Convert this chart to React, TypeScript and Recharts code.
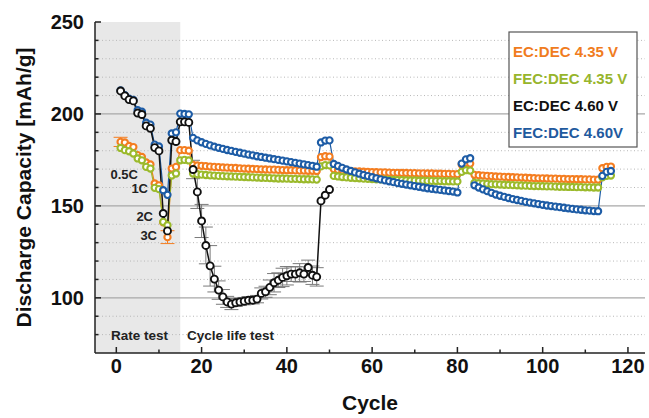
import { ComposedChart, Line, XAxis, YAxis, ReferenceArea, ReferenceLine, ErrorBar } from "recharts";

// discharge capacity per cycle [mAh/g], cycle = index + 1
const EC_435 = [
    184.8, 184.5, 182.6, 182.0, 177.6, 176.6, 173.6, 172.5, 162.2, 161.2, 141.0, 133.0, 170.3, 171.2, 180.3, 180.3, 180.0,
    172.3, 172.0, 171.8, 171.6, 171.4, 171.2, 171.1, 170.9, 170.8, 170.7, 170.6, 170.4, 170.3, 170.2, 170.1,
    170.0, 169.9, 169.8, 169.7, 169.7, 169.6, 169.5, 169.4, 169.4, 169.3, 169.2, 169.2, 169.1, 169.1, 169.0,
    176.5, 177.0, 176.8,
    170.0, 169.6, 169.3, 169.1, 168.9, 168.8, 168.7, 168.6, 168.5, 168.4, 168.3, 168.2, 168.2, 168.1, 168.0,
    168.0, 167.9, 167.9, 167.8, 167.8, 167.7, 167.7, 167.6, 167.6, 167.5, 167.5, 167.4, 167.4, 167.3, 167.3,
    172.5, 173.2, 173.0,
    166.9, 166.7, 166.5, 166.3, 166.2, 166.0, 165.9, 165.8, 165.7, 165.6, 165.5, 165.4, 165.3, 165.2, 165.1,
    165.0, 165.0, 164.9, 164.8, 164.8, 164.7, 164.7, 164.6, 164.6, 164.5, 164.5, 164.4, 164.4, 164.3, 164.3,
    170.5, 171.2, 171.4,
];

const FEC_435 = [
    181.5, 180.3, 179.7, 178.5, 175.8, 174.8, 171.2, 170.3, 159.8, 159.1, 141.3, 139.5, 166.5, 167.6, 174.8, 175.0, 174.7,
    167.6, 167.2, 167.0, 166.8, 166.6, 166.5, 166.3, 166.2, 166.1, 166.0, 165.9, 165.8, 165.7, 165.6, 165.5,
    165.4, 165.3, 165.2, 165.1, 165.0, 164.9, 164.9, 164.8, 164.7, 164.7, 164.6, 164.5, 164.5, 164.4, 164.3,
    171.5, 172.2, 172.0,
    166.3, 166.0, 165.7, 165.5, 165.3, 165.1, 165.0, 164.8, 164.7, 164.6, 164.5, 164.4, 164.3, 164.2, 164.1,
    164.0, 164.0, 163.9, 163.8, 163.8, 163.7, 163.7, 163.6, 163.6, 163.5, 163.5, 163.4, 163.4, 163.3, 163.3,
    168.5, 169.4, 169.2,
    162.5, 162.3, 162.1, 162.0, 161.8, 161.7, 161.6, 161.5, 161.4, 161.3, 161.2, 161.1, 161.0, 160.9, 160.8,
    160.8, 160.7, 160.6, 160.6, 160.5, 160.4, 160.4, 160.3, 160.3, 160.2, 160.2, 160.1, 160.1, 160.0, 160.0,
    165.5, 166.3, 166.5,
];

const EC_460 = [
    212.5, 209.8, 207.8, 207.1, 200.5, 199.7, 193.5, 192.2, 181.7, 179.9, 145.9, 136.4, 185.7, 185.0, 195.7, 195.7, 195.4,
    169.8, 157.6, 141.8, 128.5, 117.4, 110.2, 104.2, 100.5, 97.8, 96.6, 97.3, 97.8, 98.2, 98.7, 98.7,
    99.3, 102.4, 103.3, 105.7, 108.2, 109.6, 111.1, 112.0, 112.9, 112.9, 113.6, 112.9, 116.5, 112.3, 111.4,
    152.7, 155.8, 158.9,
];

const EC_460_ERR = [
    0, 0, 0, 0, 0, 0, 0, 0, 0, 0, 0, 0, 0, 0, 0, 0, 0,
    5, 9, 9, 10, 11, 7, 5, 4, 3, 3, 2, 2, 2, 2, 2,
    2, 3, 3, 4, 5, 4, 5, 5, 4, 4, 5, 4, 4, 5, 5,
    0, 0, 0,
];

const FEC_460 = [
    212.8, 210.2, 208.3, 207.6, 202.0, 201.2, 195.2, 194.2, 183.3, 182.3, 158.5, 156.0, 189.4, 190.0, 200.2, 200.0, 199.8,
    187.0, 185.6, 184.6, 183.7, 182.9, 182.2, 181.6, 181.0, 180.4, 179.9, 179.4, 178.9, 178.4, 177.9, 177.5,
    177.0, 176.6, 176.2, 175.8, 175.4, 175.0, 174.6, 174.2, 173.8, 173.4, 173.0, 172.6, 172.2, 171.8, 171.3,
    184.5, 185.5, 185.6,
    172.8, 171.7, 170.7, 169.8, 169.0, 168.2, 167.5, 166.8, 166.2, 165.6, 165.0, 164.4, 163.9, 163.4, 162.9,
    162.4, 162.0, 161.6, 161.2, 160.8, 160.4, 160.0, 159.6, 159.3, 159.0, 158.7, 158.4, 158.1, 157.8, 157.3,
    173.0, 175.3, 175.9,
    161.2, 160.0, 159.0, 158.0, 157.1, 156.2, 155.5, 154.9, 154.3, 153.7, 153.2, 152.7, 152.2, 151.8, 151.4,
    151.0, 150.6, 150.2, 149.9, 149.6, 149.3, 149.0, 148.7, 148.4, 148.1, 147.9, 147.6, 147.4, 147.2, 147.1,
    166.3, 168.5, 169.0,
];

const EC_435_ERR_CYCLES = [1, 12];
const EC_435_ERR_VALUES = [2.5, 3.5];

const X_TICKS = [0, 10, 20, 30, 40, 50, 60, 70, 80, 90, 100, 110, 120];
const X_TOP_TICKS = [0, 20, 40, 60, 80, 100, 120];
const Y_TICKS = [80, 90, 100, 110, 120, 130, 140, 150, 160, 170, 180, 190, 200, 210, 220, 230, 240, 250];
const GRID_MAJOR = [100, 150, 200];
const GRID_MINOR = [80, 90, 110, 120, 130, 140, 160, 170, 180, 190, 210, 220, 230, 240];
const RATE_LABELS = ["0.5C", "1C", "2C", "3C"];

const SERIES = [
    { key: "ec435", name: "EC:DEC 4.35 V", color: "#f47d20", text: "#f07c1e" },
    { key: "fec435", name: "FEC:DEC 4.35 V", color: "#9bba2c", text: "#97b52c" },
    { key: "fec460", name: "FEC:DEC 4.60V", color: "#1d5ca6", text: "#1f5a9e" },
    { key: "ec460", name: "EC:DEC 4.60 V", color: "#111111", text: "#111111" },
];
const LEGEND_ORDER = ["ec435", "fec435", "ec460", "fec460"];

const FONT = "Arial, 'Liberation Sans', Helvetica, sans-serif";
const AXIS = "#222";

const data = FEC_435.map((_, i) => {
    const cycle = i + 1;
    const errIdx = EC_435_ERR_CYCLES.indexOf(cycle);
    return {
        cycle,
        ec435: EC_435[i],
        fec435: FEC_435[i],
        fec460: FEC_460[i],
        ec460: i < EC_460.length ? EC_460[i] : null,
        ec460Err: i < EC_460_ERR.length ? EC_460_ERR[i] : 0,
        ec435Err: errIdx >= 0 ? EC_435_ERR_VALUES[errIdx] : 0,
    };
});

function LeftTick({ x, y, payload }: any) {
    const major = payload.value % 50 === 0;
    return (
        <g>
            <line x1={x} y1={y} x2={x + (major ? 6 : 3.5)} y2={y} stroke={AXIS} strokeWidth={1.5} />
            {major && (
                <text x={x - 11} y={y} dy="0.36em" textAnchor="end" fontFamily={FONT} fontWeight="bold" fontSize={20} fill="#111">
                    {payload.value}
                </text>
            )}
        </g>
    );
}

function RightTick({ x, y, payload }: any) {
    const major = payload.value % 50 === 0;
    return <line x1={x} y1={y} x2={x - (major ? 6 : 3.5)} y2={y} stroke={AXIS} strokeWidth={1.5} />;
}

function BottomTick({ x, y, payload }: any) {
    const major = payload.value % 20 === 0;
    return (
        <g>
            <line x1={x} y1={y} x2={x} y2={y - (major ? 6 : 3.5)} stroke={AXIS} strokeWidth={1.5} />
            {major && (
                <text x={x} y={y + 20} textAnchor="middle" fontFamily={FONT} fontWeight="bold" fontSize={20} fill="#111">
                    {payload.value}
                </text>
            )}
        </g>
    );
}

function TopTick({ x, y }: any) {
    return <line x1={x} y1={y} x2={x} y2={y + 6} stroke={AXIS} strokeWidth={1.5} />;
}

export default function App() {
    const legendItems = LEGEND_ORDER.map((k) => SERIES.find((s) => s.key === k)!);
    const ratePos = [
        { x: 138, y: 174 },
        { x: 148, y: 188 },
        { x: 153, y: 216 },
        { x: 157, y: 235 },
    ];

    return (
        <div style={{ position: "absolute", left: 0, top: 0, width: 649, height: 418, background: "#fff" }}>
            <ComposedChart width={649} height={418} data={data} margin={{ top: 22, right: 4, bottom: 0, left: 0 }}>
                <XAxis
                    dataKey="cycle" type="number" domain={[-5, 124]} ticks={X_TICKS} interval={0}
                    height={65} tickSize={0} tickMargin={0} tick={<BottomTick />}
                    axisLine={{ stroke: AXIS, strokeWidth: 1.5 }} allowDataOverflow
                />
                <XAxis
                    xAxisId="top" orientation="top" dataKey="cycle" type="number" domain={[-5, 124]}
                    ticks={X_TOP_TICKS} interval={0} height={0} tickSize={0} tickMargin={0} tick={<TopTick />}
                    axisLine={{ stroke: AXIS, strokeWidth: 1.5 }} allowDataOverflow
                />
                <YAxis
                    type="number" domain={[70, 250]} ticks={Y_TICKS} interval={0} width={95}
                    tickSize={0} tickMargin={0} tick={<LeftTick />}
                    axisLine={{ stroke: AXIS, strokeWidth: 1.5 }} allowDataOverflow
                />
                <YAxis
                    yAxisId="right" orientation="right" type="number" domain={[70, 250]} ticks={Y_TICKS} interval={0}
                    width={0} tickSize={0} tickMargin={0} tick={<RightTick />}
                    axisLine={{ stroke: AXIS, strokeWidth: 1.5 }} allowDataOverflow
                />

                <ReferenceArea x1={-5} x2={15} y1={70} y2={250} fill="#e8e8e8" fillOpacity={1} stroke="none" />
                {GRID_MINOR.map((v) => (
                    <ReferenceLine key={"n" + v} y={v} stroke="#b8b8b8" strokeWidth={1} strokeDasharray="1 2.5" />
                ))}
                {GRID_MAJOR.map((v) => (
                    <ReferenceLine key={"m" + v} y={v} stroke="#a8a8a8" strokeWidth={1.3} />
                ))}

                {SERIES.map((s) => (
                    <Line
                        key={s.key}
                        dataKey={s.key}
                        name={s.name}
                        type="linear"
                        stroke={s.color}
                        strokeWidth={s.key === "ec460" ? 1.5 : 1.2}
                        dot={{
                            r: s.key === "ec460" ? 3.5 : 3.1,
                            stroke: s.color,
                            strokeWidth: s.key === "ec460" ? 1.9 : 2.1,
                            fill: "#fff",
                        }}
                        activeDot={false}
                        isAnimationActive={false}
                    >
                        {s.key === "ec460" && (
                            <ErrorBar dataKey="ec460Err" width={7} stroke="#7a7a7a" strokeWidth={1} direction="y" />
                        )}
                        {s.key === "ec435" && (
                            <ErrorBar dataKey="ec435Err" width={7} stroke={s.color} strokeWidth={1} direction="y" />
                        )}
                    </Line>
                ))}
            </ComposedChart>

            <svg width={649} height={418} style={{ position: "absolute", left: 0, top: 0, pointerEvents: "none" }}>
                <text
                    x={23} y={187.5} transform="rotate(-90 23 187.5)" textAnchor="middle" dominantBaseline="central"
                    fontFamily={FONT} fontWeight="bold" fontSize={21} fill="#111"
                >
                    Discharge Capacity [mAh/g]
                </text>
                <text x={370} y={410} textAnchor="middle" fontFamily={FONT} fontWeight="bold" fontSize={21} fill="#111">
                    Cycle
                </text>

                {RATE_LABELS.map((t, i) => (
                    <text key={t} x={ratePos[i].x} y={ratePos[i].y} dy="0.36em" textAnchor="end"
                        fontFamily={FONT} fontWeight="bold" fontSize={13} fill="#222">
                        {t}
                    </text>
                ))}
                <text x={111} y={335} dy="0.36em" fontFamily={FONT} fontWeight="bold" fontSize={13.5} fill="#222">Rate test</text>
                <text x={187} y={335} dy="0.36em" fontFamily={FONT} fontWeight="bold" fontSize={13.5} fill="#222">Cycle life test</text>

                <rect x={509} y={32} width={128} height={115} fill="#fff" stroke="#555" strokeWidth={1.2} />
                {legendItems.map((s, i) => (
                    <text key={s.key} x={513} y={52 + i * 26.7} dy="0.36em" fontFamily={FONT} fontWeight="bold" fontSize={15} fill={s.text}>
                        {s.name}
                    </text>
                ))}
            </svg>
        </div>
    );
}
